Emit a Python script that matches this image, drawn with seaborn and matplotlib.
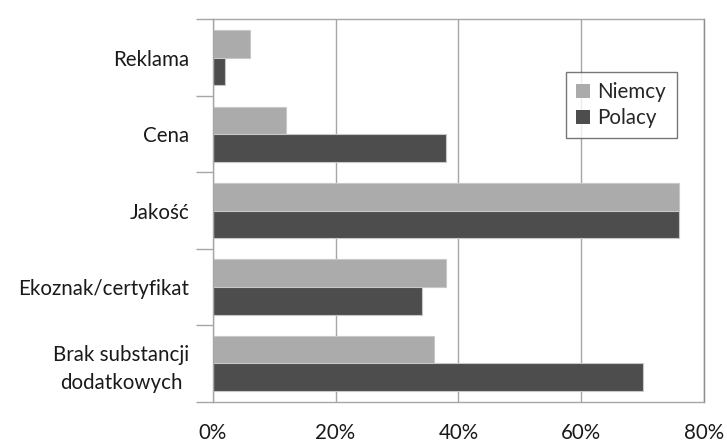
import matplotlib
matplotlib.use("Agg")
import matplotlib.pyplot as plt
from matplotlib.ticker import FixedLocator, PercentFormatter
import pandas as pd
import seaborn as sns

categories = ["Reklama", "Cena", "Jakość", "Ekoznak/certyfikat",
              "Brak substancji\ndodatkowych"]
niemcy = [6, 12, 76, 38, 36]
polacy = [2, 38, 76, 34, 70]
series = ["Niemcy", "Polacy"]
x_ticks = [0, 20, 40, 60, 80]

df = pd.DataFrame({
    "kategoria": categories * 2,
    "kraj": [series[0]] * len(categories) + [series[1]] * len(categories),
    "udzial": niemcy + polacy,
})

sns.set_theme(style="white")
plt.rcParams["font.family"] = ["Lato", "DejaVu Sans"]
FS = 14.8

fig = plt.figure(figsize=(7.27, 4.43), dpi=100)
ax = fig.add_axes([0.2926, 0.0932, 0.6758, 0.8632])

sns.barplot(data=df, x="udzial", y="kategoria", hue="kraj",
            order=categories, hue_order=series, orient="h",
            palette=["#ababab", "#4d4d4d"], width=0.72,
            edgecolor="#c8c8c8", linewidth=0.8, saturation=1, ax=ax)

grid_c = "#a6a6a6"
ax.set_xlim(0, 80)
ax.set_ylim(len(categories) - 0.5, -0.5)
ax.xaxis.set_major_locator(FixedLocator(x_ticks))
ax.xaxis.set_major_formatter(PercentFormatter(decimals=0))
ax.grid(axis="x", color=grid_c, linewidth=1.0)
ax.set_axisbelow(True)
ax.tick_params(axis="x", length=0, pad=15, labelsize=FS, colors="#1a1a1a")

# category labels at centres, tick marks on the boundaries between them
ax.tick_params(axis="y", which="major", length=0, pad=17, labelsize=FS,
               colors="#1a1a1a")
for lbl in ax.get_yticklabels():
    lbl.set_multialignment("center")
    lbl.set_linespacing(1.45)
ax.yaxis.set_minor_locator(FixedLocator([i - 0.5 for i in range(len(categories) + 1)]))
ax.tick_params(axis="y", which="minor", length=12, width=1.0, color=grid_c,
               direction="out", left=True)

for side in ["left", "right", "top", "bottom"]:
    ax.spines[side].set_visible(True)
    ax.spines[side].set_color(grid_c)
    ax.spines[side].set_linewidth(1.0)
ax.spines["right"].set_color("#8c8c8c")

ax.set_xlabel("")
ax.set_ylabel("")

leg = ax.legend(loc="upper left", bbox_to_anchor=(0.7185, 0.863),
                borderaxespad=0, frameon=True, fancybox=False,
                fontsize=FS, handlelength=0.7, handleheight=0.7,
                handletextpad=0.35, labelspacing=0.3, borderpad=0.5)
leg.get_frame().set_edgecolor("#555555")
leg.get_frame().set_linewidth(1.0)
for h in leg.legend_handles:
    h.set_edgecolor("none")

fig.savefig("out.png", dpi=100)
